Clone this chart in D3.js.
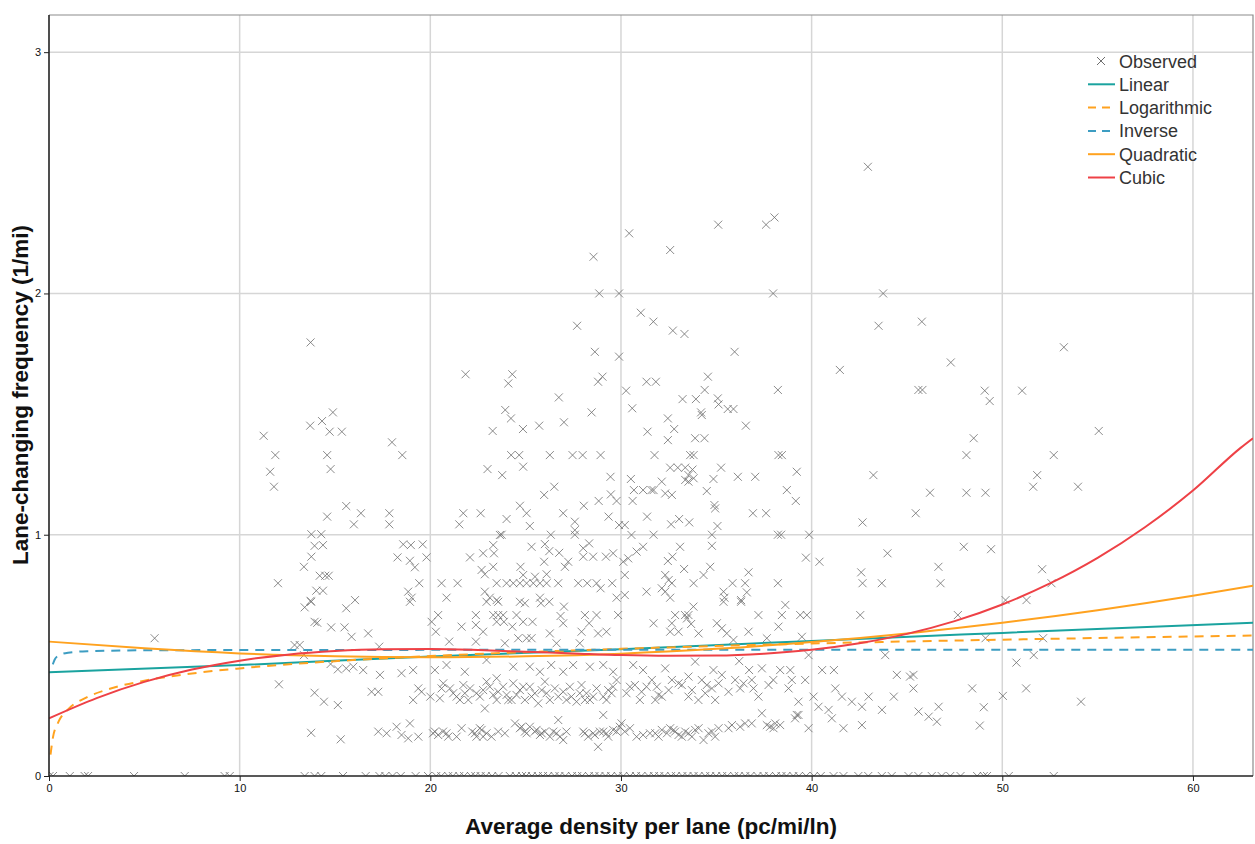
<!DOCTYPE html>
<html>
<head>
<meta charset="utf-8">
<script src="https://cdn.jsdelivr.net/npm/d3@7"></script>
<style>
  body { margin: 0; background: #fff; }
  svg text { font-family: "Liberation Sans", Arial, sans-serif; }
</style>
</head>
<body>
<svg id="chart" width="1255" height="844"></svg>
<script>
// observed lane-changing frequency vs density
const observed = [
  [13.72,1.797],[14.89,1.507],[30.43,2.249],[28.56,2.152],[28.86,2.0],[29.9,2.0],[31.04,1.92],[31.7,1.883],[27.7,1.866],[28.63,1.758],
  [29.9,1.738],[21.85,1.665],[24.3,1.665],[24.09,1.627],[29.03,1.655],[28.8,1.634],[31.34,1.634],[26.74,1.569],[30.27,1.597],[23.93,1.517],
  [30.59,1.524],[28.46,1.507],[42.95,2.525],[35.1,2.285],[37.61,2.285],[38.05,2.315],[32.58,2.18],[37.98,2.0],[43.75,2.0],[43.51,1.866],
  [45.78,1.883],[32.72,1.846],[33.33,1.832],[35.96,1.758],[41.48,1.683],[47.3,1.714],[31.83,1.634],[34.56,1.655],[34.39,1.6],[33.23,1.562],
  [33.93,1.562],[35.08,1.565],[35.12,1.54],[35.6,1.521],[35.9,1.521],[38.23,1.6],[34.2,1.507],[45.6,1.6],[45.81,1.6],
  [53.23,1.777],[49.08,1.597],[49.34,1.554],[51.04,1.597],
  [11.26,1.41],[13.7,1.452],[14.32,1.471],[14.72,1.427],[15.36,1.427],[11.87,1.33],[14.59,1.33],[11.6,1.261],[14.77,1.272],[11.8,1.199],
  [15.59,1.119],[14.59,1.075],[13.76,1.002],[14.28,1.002],[13.93,0.954],[14.37,0.957],[13.76,0.909],[13.37,0.867],[14.2,0.83],[14.49,0.83],
  [14.67,0.83],[12.01,0.799],[14.02,0.768],[14.37,0.768],[13.72,0.726],
  [24.23,1.482],[23.27,1.43],[24.86,1.438],[25.71,1.452],[27.01,1.466],[31.39,1.427],[17.99,1.383],[18.53,1.33],[24.24,1.33],[24.66,1.33],
  [26.27,1.33],[27.46,1.33],[27.99,1.33],[28.93,1.33],[24.87,1.282],[23.0,1.272],[23.77,1.247],[29.45,1.24],[30.52,1.231],[30.68,1.185],
  [31.16,1.185],[31.6,1.185],[26.5,1.199],[25.97,1.165],[29.47,1.167],[29.77,1.14],[28.83,1.14],[30.61,1.14],[28.05,1.12],[24.7,1.12],
  [25.05,1.089],[26.97,1.089],[29.35,1.075],[31.37,1.075],[24.0,1.065],[21.73,1.089],[22.64,1.089],[16.36,1.089],[17.85,1.089],[17.85,1.043],
  [15.99,1.043],[21.52,1.043],[25.22,1.036],[27.58,1.054],[27.58,1.019],[29.9,1.04],[30.2,1.04],[23.65,0.999],[23.74,1.0],[26.32,1.0],
  [27.58,1.0],[30.55,0.999],[18.58,0.96],[18.98,0.957],[19.6,0.96],[18.28,0.906],[18.93,0.892],[19.19,0.865],[19.8,0.906],[19.42,0.799],
  [18.84,0.764],[19.02,0.739],[16.05,0.729],[22.08,0.906],[22.77,0.923],[23.3,0.957],[23.34,0.923],[22.69,0.854],[22.86,0.836],[23.3,0.867],
  [20.59,0.799],[21.43,0.799],[20.85,0.739],[24.73,0.867],[25.31,0.95],[26.01,0.961],[26.24,0.932],[25.97,0.888],[26.76,0.925],[27.23,0.888],
  [27.06,0.867],[28.02,0.944],[28.33,0.964],[28.02,0.909],[28.54,0.909],[29.21,0.909],[29.59,0.923],[30.12,0.888],[30.38,0.902],[30.82,0.93],
  [31.16,0.95],[23.48,0.799],[24.0,0.799],[24.35,0.799],[24.7,0.799],[25.05,0.799],[25.4,0.799],[25.75,0.799],[26.1,0.799],[26.71,0.799],
  [27.76,0.799],[28.23,0.799],[28.72,0.799],[29.54,0.799],[24.87,0.833],[25.49,0.826],[26.1,0.836],[30.2,0.833],[30.2,0.75],[31.34,0.764],
  [22.86,0.764],[23.12,0.739],[23.48,0.729],[25.75,0.739],[24.7,0.722],[28.93,0.778],[29.77,0.739],
  [32.46,1.482],[34.24,1.496],[32.79,1.438],[36.55,1.452],[32.46,1.392],[33.89,1.4],[34.38,1.4],[31.76,1.33],[33.63,1.33],[33.81,1.33],
  [38.26,1.33],[38.44,1.33],[32.58,1.278],[32.98,1.278],[33.37,1.278],[33.75,1.27],[35.25,1.278],[32.14,1.22],[32.32,1.171],[32.67,1.165],
  [31.71,1.185],[33.37,1.227],[33.54,1.22],[33.81,1.234],[33.54,1.247],[34.85,1.231],[36.13,1.24],[37.04,1.24],[39.22,1.261],[34.5,1.181],
  [38.7,1.185],[39.17,1.14],[34.9,1.123],[34.94,1.109],[36.92,1.089],[37.61,1.089],[32.63,1.043],[33.05,1.065],[33.58,1.051],[35.06,1.036],
  [34.77,1.0],[38.23,1.0],[38.4,1.0],[39.87,1.0],[31.71,1.0],[34.77,0.954],[33.1,0.95],[32.46,0.891],[32.7,0.909],[33.31,0.858],
  [34.33,0.833],[34.68,0.867],[36.69,0.844],[35.85,0.799],[36.51,0.799],[38.23,0.799],[33.81,0.799],[32.32,0.833],[32.5,0.812],[32.67,0.799],
  [32.14,0.778],[32.32,0.764],[32.58,0.739],[35.38,0.764],[35.43,0.739],[36.6,0.761],[36.3,0.729],[39.7,0.905],[40.41,0.888],[43.24,1.247],
  [46.21,1.174],[45.46,1.089],[42.67,1.051],[43.98,0.923],[42.6,0.844],[42.67,0.799],[43.68,0.799],[46.65,0.867],[46.76,0.799],
  [48.5,1.4],[48.12,1.33],[55.06,1.43],[52.7,1.33],[51.83,1.247],[51.62,1.199],[53.97,1.199],[48.12,1.174],[49.12,1.174],[47.98,0.95],
  [49.41,0.94],[52.09,0.857],[52.58,0.799],[50.17,0.729],[51.27,0.729],
  [5.54,0.571],[12.06,0.38],[13.41,0.699],[13.75,0.722],[13.93,0.639],[14.07,0.635],[14.8,0.616],[15.5,0.616],[15.59,0.695],[12.88,0.543],
  [13.15,0.543],[13.37,0.501],[14.77,0.464],[15.15,0.442],[15.59,0.446],[13.93,0.345],[14.42,0.308],[15.15,0.294],[13.75,0.179],[15.3,0.152],
  [18.93,0.722],[20.41,0.667],[20.07,0.639],[20.29,0.598],[16.74,0.591],[15.87,0.577],[17.32,0.536],[21.64,0.619],[22.39,0.667],[22.39,0.626],
  [22.77,0.598],[23.3,0.667],[23.56,0.667],[23.82,0.667],[23.48,0.639],[23.86,0.639],[22.95,0.722],[23.56,0.722],[24.52,0.667],[24.87,0.639],
  [25.36,0.639],[24.3,0.619],[24.96,0.716],[25.8,0.716],[26.24,0.722],[26.27,0.591],[27.01,0.702],[26.83,0.663],[26.97,0.633],[28.11,0.667],
  [28.72,0.667],[28.33,0.633],[28.8,0.591],[29.24,0.598],[27.93,0.598],[29.85,0.667],[24.61,0.571],[25.05,0.571],[25.31,0.571],[23.91,0.55],
  [26.62,0.55],[27.84,0.55],[20.99,0.557],[22.39,0.557],
  [15.96,0.453],[16.48,0.439],[17.36,0.419],[18.49,0.426],[19.1,0.439],[20.24,0.439],[20.85,0.46],[21.81,0.432],[22.95,0.481],[23.48,0.405],
  [24.35,0.453],[25.22,0.453],[25.75,0.432],[26.34,0.46],[26.97,0.432],[27.49,0.46],[28.37,0.453],[29.07,0.46],[29.59,0.432],[30.64,0.46],
  [31.16,0.439],
  [19.37,0.363],[19.54,0.349],[19.1,0.315],[20.0,0.329],[20.59,0.363],[20.5,0.322],[21.03,0.363],[21.38,0.329],[21.73,0.377],[21.81,0.343],
  [21.99,0.315],[22.42,0.343],[22.77,0.356],[22.95,0.391],[22.86,0.28],[23.3,0.336],[23.48,0.315],[23.82,0.37],[24.09,0.315],[24.35,0.384],
  [24.52,0.336],[24.7,0.356],[24.96,0.315],[25.22,0.37],[25.48,0.343],[25.66,0.301],[26.01,0.391],[26.27,0.315],[26.53,0.363],[26.97,0.349],
  [27.14,0.315],[27.4,0.329],[27.67,0.308],[27.93,0.377],[28.19,0.343],[28.37,0.315],[28.72,0.363],[29.07,0.329],[29.33,0.356],[29.59,0.37],
  [29.77,0.398],[30.29,0.343],[30.73,0.377],[30.99,0.315],[31.34,0.37],[16.92,0.349],[17.27,0.349],[29.07,0.253],[26.71,0.232],
  [20.68,0.384],[21.2,0.343],[21.55,0.315],[22.08,0.363],[22.6,0.329],[23.12,0.37],[23.56,0.349],[24.0,0.336],[24.26,0.315],[24.87,0.37],
  [25.31,0.329],[25.84,0.356],[26.1,0.343],[26.71,0.329],[27.32,0.37],[27.84,0.343],[28.11,0.315],[28.54,0.329],[29.24,0.315],[29.51,0.343],
  [30.47,0.37],[31.08,0.349],
  [17.27,0.184],[17.71,0.177],[18.23,0.204],[18.49,0.17],[18.84,0.156],[18.93,0.218],[19.37,0.163],[20.14,0.177],[20.41,0.17],[20.67,0.184],
  [20.94,0.163],[21.38,0.163],[21.64,0.198],[22.2,0.184],[22.42,0.163],[22.69,0.191],[22.95,0.177],[23.21,0.163],[23.56,0.184],[23.91,0.177],
  [24.44,0.218],[24.7,0.198],[24.96,0.184],[25.22,0.204],[25.48,0.184],[25.75,0.17],[26.01,0.184],[26.27,0.163],[26.62,0.177],[26.97,0.149],
  [27.14,0.184],[28.02,0.184],[28.28,0.163],[28.54,0.177],[28.8,0.121],[29.07,0.184],[29.33,0.163],[29.59,0.191],[29.94,0.204],[30.2,0.184],
  [30.47,0.198],[30.82,0.163],[31.16,0.17],[31.52,0.177],
  [20.24,0.184],[20.85,0.177],[22.34,0.177],[22.6,0.198],[22.77,0.163],[24.79,0.204],[25.05,0.177],[25.57,0.191],[25.84,0.177],[26.45,0.184],
  [26.8,0.163],[28.11,0.177],[28.63,0.17],[28.89,0.184],[29.24,0.177],[29.77,0.184],[30.03,0.218],
  [35.38,0.722],[36.3,0.722],[38.62,0.709],[33.8,0.702],[33.36,0.667],[33.54,0.667],[32.84,0.667],[33.68,0.63],[33.02,0.598],[32.67,0.633],
  [37.21,0.667],[38.44,0.667],[39.4,0.667],[39.75,0.667],[42.55,0.667],[35.03,0.633],[35.55,0.591],[35.29,0.612],[31.71,0.633],[37.65,0.571],
  [32.58,0.598],[33.46,0.653],[34.07,0.591],[35.9,0.564],[36.69,0.598],[38.26,0.619],[39.49,0.577],
  [33.89,0.474],[34.85,0.439],[36.2,0.476],[36.72,0.439],[37.39,0.446],[38.35,0.439],[38.88,0.439],[39.84,0.501],[40.55,0.439],[41.17,0.439],
  [43.86,0.501],[44.47,0.419],[45.34,0.419],[32.32,0.446],[32.67,0.398],[33.02,0.384],[33.54,0.412],[34.24,0.398],[34.5,0.377],[34.77,0.363],
  [31.62,0.398],[31.97,0.336],[31.8,0.315],[32.14,0.329],[33.54,0.329],[34.06,0.315],[34.94,0.315],[35.29,0.419],[35.99,0.398],[36.25,0.363],
  [36.86,0.398],[36.95,0.363],[37.99,0.398],[38.79,0.363],[39.31,0.308],[39.66,0.398],[40.1,0.329],[40.36,0.287],[40.89,0.274],[41.24,0.363],
  [41.59,0.329],[42.11,0.308],[42.64,0.287],[42.99,0.329],[43.69,0.274],[44.31,0.329],[45.61,0.267],[46.14,0.246],[46.66,0.287],[46.57,0.225],
  [41.06,0.239],[41.67,0.198],[42.64,0.211],[39.84,0.198],[45.16,0.412],[45.34,0.363],
  [31.88,0.37],[32.5,0.356],[33.19,0.377],[33.72,0.356],[34.42,0.343],[35.12,0.384],[35.64,0.349],[36.43,0.384],[37.21,0.329],[37.74,0.377],
  [38.96,0.398],
  [31.8,0.177],[32.14,0.191],[32.58,0.198],[32.84,0.184],[33.19,0.163],[33.54,0.177],[33.89,0.191],[34.33,0.149],[34.77,0.184],[35.12,0.198],
  [35.82,0.211],[36.25,0.204],[36.86,0.218],[37.39,0.26],[37.82,0.204],[38.09,0.218],[38.35,0.211],[39.13,0.239],[39.31,0.253],
  [31.97,0.163],[32.41,0.177],[32.76,0.191],[33.02,0.17],[33.37,0.184],[33.72,0.163],[34.07,0.198],[34.59,0.177],[34.94,0.163],[35.64,0.198],
  [36.51,0.218],[37.65,0.211],[38.0,0.198],[39.22,0.253],
  [47.67,0.667],[49.12,0.571],[52.14,0.571],[51.65,0.501],[50.74,0.47],[48.42,0.363],[51.25,0.363],[50.03,0.332],[49.03,0.285],[48.82,0.209],
  [54.13,0.308]
];

// densities of the observations that sit on zero frequency
const zeroDensities = [
  0.03,0.21,1.09,1.87,2.05,4.46,7.12,9.21,9.48,13.41,13.93,14.28,15.42,16.61,17.33,17.64,18.02,18.45,19.23,19.88,
  20.31,20.57,20.94,21.18,21.52,21.77,22.13,22.36,22.64,22.91,23.24,23.58,24.17,24.49,24.81,25.02,25.33,25.64,25.91,26.18,
  26.52,26.77,27.08,27.43,27.71,27.96,28.32,28.61,28.87,29.19,29.48,29.83,30.12,30.47,30.79,31.07,31.44,31.73,32.01,32.28,
  32.63,32.88,33.22,33.49,33.81,34.07,34.42,34.68,34.99,35.31,35.57,35.94,36.18,36.52,36.79,37.16,37.48,37.77,38.13,38.42,
  38.68,39.04,39.33,39.71,40.12,40.48,41.15,41.67,42.45,42.97,43.68,44.2,45.08,45.6,46.3,46.82,47.27,47.81,48.68,49.03,
  49.2,50.34,52.7
];

// fitted curves, values
const linearX = [0, 10, 20, 30, 40, 50, 63.15];
const linearY = [0.43, 0.46, 0.495, 0.525, 0.56, 0.593, 0.635];
const logX = [0.08, 0.2, 0.5, 1, 2, 3, 5, 7.5, 10, 15, 20, 30, 40, 50, 63.15];
const logY = [0.089, 0.157, 0.225, 0.276, 0.327, 0.357, 0.395, 0.425, 0.446, 0.476, 0.497, 0.527, 0.549, 0.565, 0.582];
const invX = [0.2, 0.3, 0.5, 1, 2, 5, 10, 30, 63.15];
const invY = [0.463, 0.483, 0.499, 0.511, 0.517, 0.521, 0.522, 0.523, 0.523];
const quadX = [0, 5, 10, 15, 20, 25, 30, 35, 40, 45, 50, 55, 60, 63.15];
const quadY = [0.557, 0.529, 0.508, 0.496, 0.492, 0.496, 0.507, 0.527, 0.555, 0.591, 0.635, 0.687, 0.747, 0.789];
const cubicX = [0, 2.5, 5, 7.5, 10, 12.5, 15, 17.5, 20, 22.5, 25, 27.5, 30, 32.5, 35, 37.5, 40, 42.5, 45, 47.5, 50, 52.5, 55, 57.5, 60, 62.5, 63.15];
const cubicY = [0.239, 0.323, 0.39, 0.441, 0.478, 0.503, 0.518, 0.525, 0.526, 0.522, 0.515, 0.508, 0.501, 0.498, 0.499, 0.507, 0.523, 0.55, 0.589, 0.642, 0.711, 0.798, 0.904, 1.032, 1.183, 1.36, 1.40];

const xTicks = [0, 10, 20, 30, 40, 50, 60];
const yTicks = [0, 1, 2, 3];

const fits = [
  { name: "Linear", xs: linearX, ys: linearY, color: "#1aa39f", dash: null },
  { name: "Logarithmic", xs: logX, ys: logY, color: "#ffa21f", dash: "9,7" },
  { name: "Inverse", xs: invX, ys: invY, color: "#3d9dc2", dash: "9,7" },
  { name: "Quadratic", xs: quadX, ys: quadY, color: "#ffa21f", dash: null },
  { name: "Cubic", xs: cubicX, ys: cubicY, color: "#ee4146", dash: null }
];

const svg = d3.select("#chart");
const pLeft = 49, pTop = 15, pRight = 1253, pBottom = 776;

const x = d3.scaleLinear().domain([0, 63.15]).range([pLeft, pRight]);
const y = d3.scaleLinear().domain([0, 3.154]).range([pBottom, pTop]);

svg.append("defs").append("clipPath").attr("id", "plotclip")
  .append("rect").attr("x", pLeft).attr("y", pTop).attr("width", pRight - pLeft).attr("height", pBottom - pTop);

// grid
const grid = svg.append("g");
grid.selectAll("line.vx").data(xTicks.filter(d => d > 0)).join("line")
  .attr("x1", d => x(d)).attr("x2", d => x(d)).attr("y1", pTop).attr("y2", pBottom)
  .attr("stroke", "#d6d6d6").attr("stroke-width", 1.5);
grid.selectAll("line.hy").data(yTicks.filter(d => d > 0)).join("line")
  .attr("x1", pLeft).attr("x2", pRight).attr("y1", d => y(d)).attr("y2", d => y(d))
  .attr("stroke", "#d6d6d6").attr("stroke-width", 1.5);

// frame top & right
svg.append("path")
  .attr("d", `M${pLeft},${pTop}H${pRight}V${pBottom}`)
  .attr("fill", "none").attr("stroke", "#8c8c8c").attr("stroke-width", 1.2);

const plot = svg.append("g").attr("clip-path", "url(#plotclip)");

// observed markers
const cross = "M-4,-4L4,4M-4,4L4,-4";
const allObs = observed.concat(zeroDensities.map(d => [d, 0]));
plot.selectAll("path.obs").data(allObs).join("path")
  .attr("class", "obs")
  .attr("transform", d => `translate(${x(d[0])},${y(d[1])})`)
  .attr("d", cross)
  .attr("fill", "none").attr("stroke", "#6e6e6e").attr("stroke-width", 1).attr("opacity", 0.8);

// fit lines
const line = d3.line().curve(d3.curveMonotoneX).x(d => x(d[0])).y(d => y(d[1]));
fits.forEach(f => {
  plot.append("path")
    .attr("d", line(f.xs.map((v, i) => [v, f.ys[i]])))
    .attr("fill", "none").attr("stroke", f.color).attr("stroke-width", 2)
    .attr("stroke-dasharray", f.dash);
});

// axes
const xAxis = svg.append("g").attr("transform", `translate(0,${pBottom})`)
  .call(d3.axisBottom(x).tickValues(xTicks).tickFormat(d3.format("d")).tickSize(5).tickSizeOuter(0));
const yAxis = svg.append("g").attr("transform", `translate(${pLeft},0)`)
  .call(d3.axisLeft(y).tickValues(yTicks).tickFormat(d3.format("d")).tickSize(5).tickSizeOuter(0));
[xAxis, yAxis].forEach(a => {
  a.select(".domain").attr("stroke", "#222").attr("stroke-width", 1.6);
  a.selectAll(".tick line").attr("stroke", "#222");
  a.selectAll(".tick text").attr("font-size", 11).attr("fill", "#111");
});
xAxis.select(".domain").attr("d", `M${pLeft},0H${pRight}`);
yAxis.select(".domain").attr("d", `M0,${pTop}V${pBottom}`);

// titles
svg.append("text").attr("x", 651).attr("y", 834)
  .attr("text-anchor", "middle").attr("font-size", 22.5).attr("font-weight", "bold").attr("fill", "#111")
  .text("Average density per lane (pc/mi/ln)");
svg.append("text").attr("transform", "translate(28,395) rotate(-90)")
  .attr("text-anchor", "middle").attr("font-size", 22.5).attr("font-weight", "bold").attr("fill", "#111")
  .text("Lane-changing frequency (1/mi)");

// legend
const legend = svg.append("g").attr("transform", "translate(1088,61)");
const items = [{ name: "Observed" }].concat(fits);
items.forEach((it, i) => {
  const g = legend.append("g").attr("transform", `translate(0,${i * 23.3})`);
  if (it.xs) {
    g.append("line").attr("x1", 0).attr("x2", 27).attr("y1", 0).attr("y2", 0)
      .attr("stroke", it.color).attr("stroke-width", 2)
      .attr("stroke-dasharray", it.dash ? "8,6" : null);
  } else {
    g.append("path").attr("transform", "translate(13,0)").attr("d", cross)
      .attr("fill", "none").attr("stroke", "#6e6e6e").attr("stroke-width", 1);
  }
  g.append("text").attr("x", 31).attr("y", 6.5).attr("font-size", 18).attr("fill", "#333").text(it.name);
});
</script>
</body>
</html>
